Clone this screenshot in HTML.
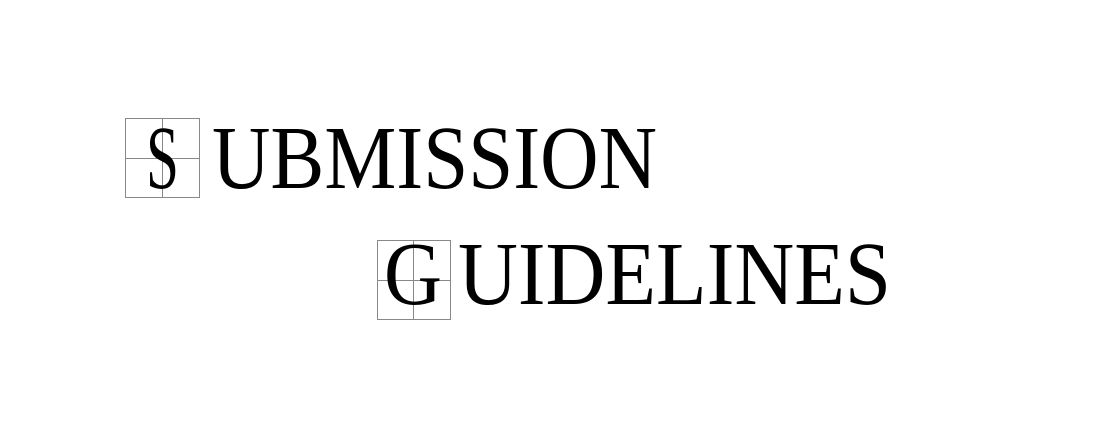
<!DOCTYPE html>
<html><head><meta charset="utf-8"><style>
html,body{margin:0;padding:0;background:#fff;width:1101px;height:444px;overflow:hidden}
text{font-family:"Liberation Serif",serif;fill:#000}
</style></head><body>
<svg width="1101" height="444">
<g stroke="#888" stroke-width="1" fill="none">
<rect x="125.5" y="118.5" width="74" height="79"/>
<line x1="162.5" y1="118" x2="162.5" y2="198"/>
<line x1="125" y1="158.5" x2="200" y2="158.5"/>
</g>
<g stroke="#888" stroke-width="1" fill="none">
<rect x="377.5" y="240.5" width="73" height="79"/>
<line x1="413.5" y1="240" x2="413.5" y2="320"/>
<line x1="377" y1="280.5" x2="451" y2="280.5"/>
</g>
<text x="146" y="188" font-size="90" textLength="33" lengthAdjust="spacingAndGlyphs">S</text>
<text x="212" y="188" font-size="90" textLength="445" lengthAdjust="spacingAndGlyphs">UBMISSION</text>
<text x="384" y="304" font-size="90" textLength="58" lengthAdjust="spacingAndGlyphs">G</text>
<text x="458" y="304" font-size="90" textLength="433" lengthAdjust="spacingAndGlyphs">UIDELINES</text>
</svg>
</body></html>
